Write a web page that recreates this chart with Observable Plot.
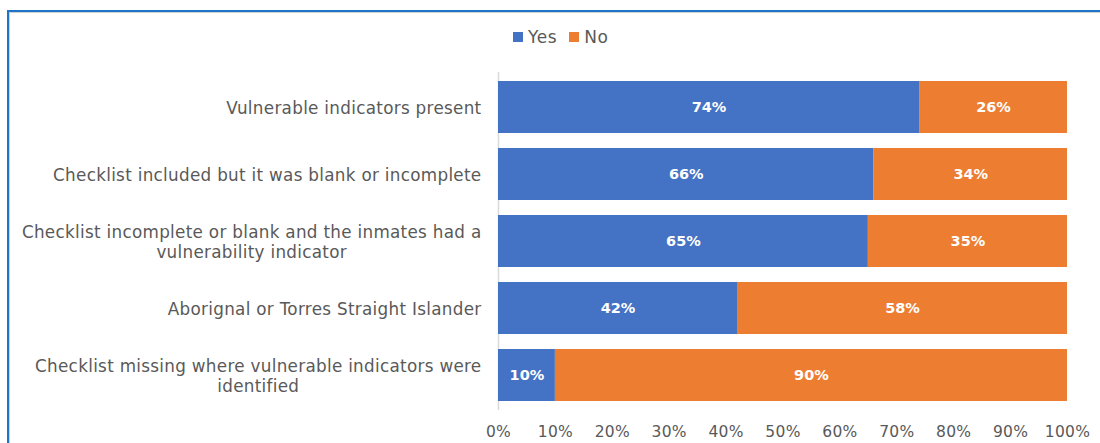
<!DOCTYPE html>
<html>
<head>
<meta charset="utf-8">
<script src="https://cdn.jsdelivr.net/npm/d3@7"></script>
<script src="https://cdn.jsdelivr.net/npm/@observablehq/plot@0.6"></script>
<style>
  html, body { margin: 0; padding: 0; background: #fff; overflow: hidden; }
  #wrap { position: relative; width: 1100px; height: 443px; overflow: hidden; font-family: "DejaVu Sans", sans-serif; }
  #frame { position: absolute; left: 7px; top: 10px; width: 1200px; height: 600px; border-left: 2px solid #1e74c6; border-top: 2px solid #1e74c6; box-shadow: inset 1px 1px 0 #d0d0d0; }
  #legend { position: absolute; top: 27px; left: 513px; display: flex; align-items: center; font-size: 17px; letter-spacing: 0.6px; color: #595959; }
  #legend .sw { width: 10px; height: 10px; display: inline-block; margin-right: 5px; }
  #legend .item { display: flex; align-items: center; margin-right: 12px; }
  #chart { position: absolute; left: 0; top: 0; }
  #chart svg g[aria-label="y-axis tick label"] text { letter-spacing: 0.3px; }
  #chart svg g[aria-label="x-axis tick label"] text { letter-spacing: 0.3px; }
</style>
</head>
<body>
<div id="wrap">
  <div id="frame"></div>
  <div id="legend"></div>
  <div id="chart"></div>
</div>
<script>
const categories = [
  "Vulnerable indicators present",
  "Checklist included but it was blank or incomplete",
  "Checklist incomplete or blank and the inmates had a\nvulnerability indicator",
  "Aborignal or Torres Straight Islander",
  "Checklist missing where vulnerable indicators were\nidentified"
];
const yesValues = [74, 66, 65, 42, 10];
const noValues = [26, 34, 35, 58, 90];
const seriesNames = ["Yes", "No"];
const seriesColors = ["#4472C4", "#ED7D31"];
const xTicks = [0, 10, 20, 30, 40, 50, 60, 70, 80, 90, 100];

const data = [];
categories.forEach((c, i) => {
  data.push({category: c, series: "Yes", value: yesValues[i]});
  data.push({category: c, series: "No", value: noValues[i]});
});

// legend
const legend = document.getElementById("legend");
seriesNames.forEach((s, i) => {
  const it = document.createElement("span");
  it.className = "item";
  it.innerHTML = `<span class="sw" style="background:${seriesColors[i]}"></span>${s}`;
  legend.appendChild(it);
});

const plot = Plot.plot({
  width: 1100,
  height: 443,
  marginLeft: 498,
  marginRight: 33,
  marginTop: 72,
  marginBottom: 33,
  style: {fontFamily: "DejaVu Sans, sans-serif", fontSize: "15px", color: "#595959", background: "transparent"},
  x: {domain: [0, 100], ticks: xTicks, tickFormat: d => d + "%", tickSize: 0, label: null},
  y: {domain: categories, paddingInner: 0.23, paddingOuter: 0.115, tickSize: 0, label: null},
  color: {domain: seriesNames, range: seriesColors},
  marks: [
    Plot.axisX({ticks: xTicks, tickFormat: d => d + "%", tickSize: 0, tickPadding: 15, fontSize: 15.5, fill: "#595959", label: null}),
    Plot.axisY({tickSize: 0, tickPadding: 17, fontSize: 16.8, fill: "#595959", label: null, lineHeight: 1.2}),
    Plot.ruleX([0], {stroke: "#d9d9d9", strokeWidth: 1.5}),
    Plot.barX(data, Plot.stackX({x: "value", y: "category", fill: "series", order: seriesNames})),
    Plot.text(data, Plot.stackX({x: "value", y: "category", z: "series", order: seriesNames, text: d => d.value + "%", fill: "white", fontWeight: "bold", fontSize: 14.5}))
  ]
});
document.getElementById("chart").appendChild(plot);

// center multi-line y labels like the original
const yAxis = plot.querySelector('[aria-label="y-axis tick label"]');
if (yAxis) {
  yAxis.querySelectorAll("text").forEach(t => {
    const spans = t.querySelectorAll("tspan");
    if (spans.length > 1) {
      let maxW = 0;
      spans.forEach(s => { maxW = Math.max(maxW, s.getComputedTextLength()); });
      const right = parseFloat(spans[0].getAttribute("x") || 0);
      t.setAttribute("text-anchor", "middle");
      spans.forEach(s => s.setAttribute("x", right - maxW / 2));
    }
  });
}
</script>
</body>
</html>
